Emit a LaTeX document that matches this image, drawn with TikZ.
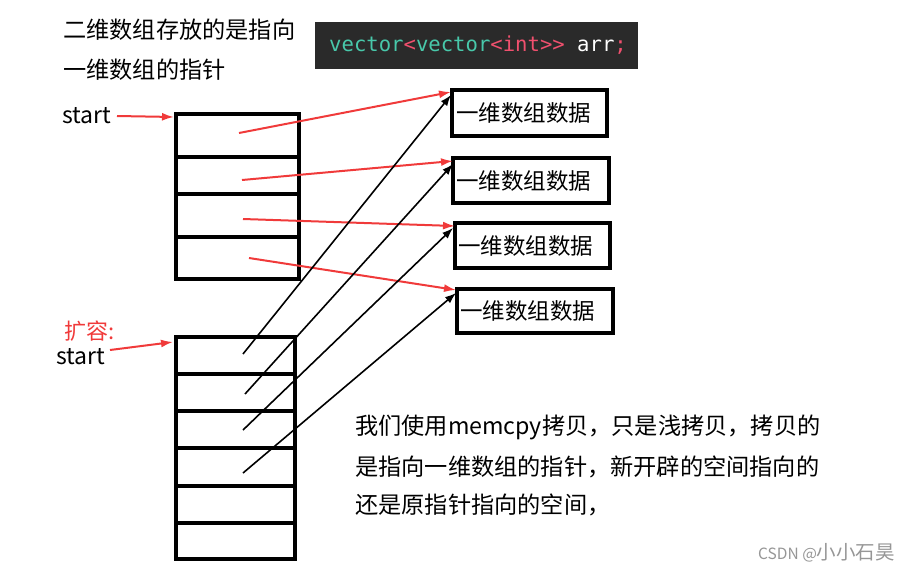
\documentclass[tikz,border=0pt]{standalone}
\usepackage{fontspec}
\setmainfont{Noto Sans CJK SC}
\newfontfamily\codefont{DejaVu Sans Mono}
\usetikzlibrary{arrows.meta,calc}
\definecolor{ptrred}{RGB}{240,58,58}
\definecolor{codebg}{RGB}{42,42,42}
\definecolor{codeteal}{RGB}{72,200,170}
\definecolor{codepink}{RGB}{240,80,110}
\definecolor{wmgray}{RGB}{150,150,150}
\begin{document}
\begin{tikzpicture}[x=1pt,y=-1pt,
  cell/.style={draw,line width=3.2pt,anchor=north west,inner sep=0pt,outer sep=0pt},
  databox/.style={draw,line width=3.2pt,inner sep=0pt,outer sep=0pt,minimum width=155pt,minimum height=45pt},
  txt/.style={anchor=west,inner sep=0pt,font=\fontsize{22.5}{27}\selectfont},
  bigtxt/.style={anchor=west,inner sep=0pt,font=\fontsize{23.2}{27}\selectfont},
  redarrow/.style={draw=ptrred,line width=2pt,-{Latex[length=12pt,width=8pt]}},
  blkarrow/.style={draw=black,line width=1.6pt,-{Latex[length=11pt,width=8pt]}}]
\useasboundingbox (0,0) rectangle (910,573);
% top-left text
\node[bigtxt] (t1) at (63,30) {二维数组存放的是指向};
\node[bigtxt] (t2) at (63,70) {一维数组的指针};
% code box
\node[fill=codebg,anchor=north west,minimum width=323pt,minimum height=47pt,inner sep=0pt] (code) at (315,22) {};
\node[anchor=west,inner sep=0pt,font=\codefont\fontsize{20.6}{24}\selectfont] (codetxt) at (329,45.5)
  {\textcolor{codeteal}{vector}\textcolor{codepink}{<}\textcolor{codeteal}{vector}\textcolor{codepink}{<int>>}\textcolor{white}{\ arr}\textcolor{codepink}{;}};
% top array
\node[cell,minimum width=123pt,minimum height=43pt] (a1) at (176,114) {};
\node[cell,minimum width=123pt,minimum height=37pt] (a2) at (176,157) {};
\node[cell,minimum width=123pt,minimum height=43pt] (a3) at (176,194) {};
\node[cell,minimum width=123pt,minimum height=42pt] (a4) at (176,237) {};
% bottom array
\node[cell,minimum width=119pt,minimum height=37pt] (b1) at (176,337) {};
\node[cell,minimum width=119pt,minimum height=37pt] (b2) at (176,374) {};
\node[cell,minimum width=119pt,minimum height=37pt] (b3) at (176,411) {};
\node[cell,minimum width=119pt,minimum height=38pt] (b4) at (176,448) {};
\node[cell,minimum width=119pt,minimum height=37pt] (b5) at (176,486) {};
\node[cell,minimum width=119pt,minimum height=36pt] (b6) at (176,523) {};
% data boxes
\node[databox,minimum height=46pt] (d1) at (529.5,113) {};
\node[databox,minimum width=156pt] (d2) at (531,180.5) {};
\node[databox] (d3) at (532.5,245.5) {};
\node[databox,minimum width=156pt,minimum height=44pt] (d4) at (535,311) {};
\node[txt] (l1) at ([xshift=4pt]d1.west) {一维数组数据};
\node[txt] (l2) at ([xshift=3pt]d2.west) {一维数组数据};
\node[txt] (l3) at ([xshift=3pt]d3.west) {一维数组数据};
\node[txt] (l4) at ([xshift=3pt]d4.west) {一维数组数据};
% start labels
\node[anchor=base west,inner sep=0pt,font=\fontsize{23}{27}\selectfont] (st1) at (62,123) {start};
\node[anchor=west,inner sep=0pt,text=ptrred,font=\fontsize{22}{26}\selectfont] (kr) at (64,331) {扩容:};
\node[anchor=base west,inner sep=0pt,font=\fontsize{23}{27}\selectfont] (st2) at (56,364) {start};
\coordinate (st1e) at (117,116);
\coordinate (st2e) at (110,350);
\draw[redarrow] (st1e) -- ($(a1.north west)+(-2,3)$);
\draw[redarrow] (st2e) -- ($(b1.north west)+(-3,5)$);
% pointers from top array
\coordinate (s1) at (239,133);
\coordinate (s2) at (242,180);
\coordinate (s3) at (243,219);
\coordinate (s4) at (249,258);
\draw[redarrow] (s1) -- ($(d1.north west)+(-1,2)$);
\draw[redarrow] (s2) -- ($(d2.north west)+(0,3)$);
\draw[redarrow] (s3) -- ($(d3.north west)+(0,3)$);
\draw[redarrow] (s4) -- ($(d4.north west)+(-1,1)$);
% pointers from bottom array
\coordinate (c1) at (243,354);
\coordinate (c2) at (245,394);
\coordinate (c3) at (243,430);
\coordinate (c4) at (243,473);
\draw[blkarrow] (c1) -- ($(d1.north west)+(-1,5)$);
\draw[blkarrow] (c2) -- ($(d2.north west)+(0,6)$);
\draw[blkarrow] (c3) -- ($(d3.north west)+(-2,5)$);
\draw[blkarrow] (c4) -- ($(d4.north west)+(-1,4)$);
% explanation
\node[bigtxt] (e1) at (355,427) {我们使用memcpy拷贝，只是浅拷贝，拷贝的};
\node[bigtxt] (e2) at (355,467) {是指向一维数组的指针，新开辟的空间指向的};
\node[bigtxt] (e3) at (355,505) {还是原指针指向的空间，};
% watermark
\node[anchor=west,inner sep=0pt,text=wmgray] (wm) at (758,553) {{\fontsize{15.5}{17}\selectfont CSDN @}{\fontsize{19.5}{20}\selectfont 小小石昊}};
\end{tikzpicture}
\end{document}
